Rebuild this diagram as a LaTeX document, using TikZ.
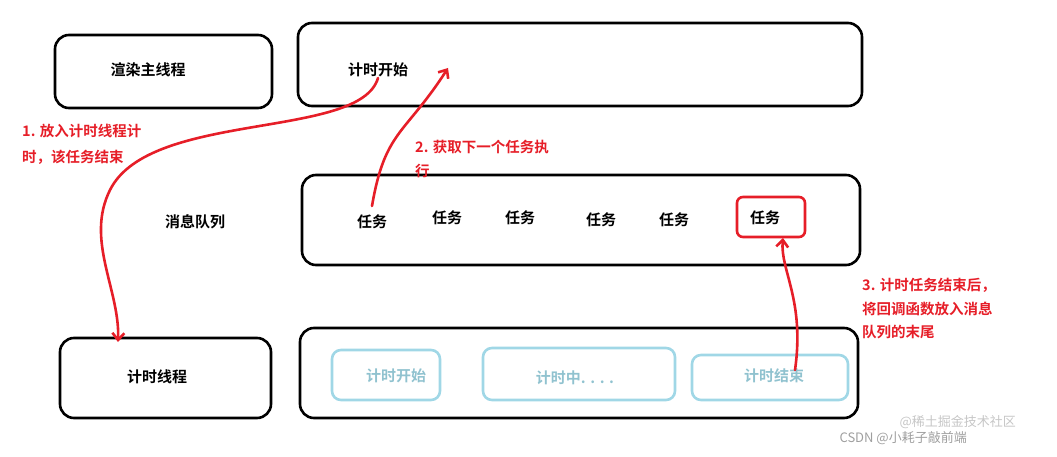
\documentclass[tikz,border=0pt]{standalone}
\usepackage{fontspec}
\setmainfont{Noto Sans CJK SC}[BoldFont={* Bold}]
\usetikzlibrary{arrows.meta}
\definecolor{lb}{RGB}{160,215,230}
\definecolor{rd}{RGB}{230,30,40}
\tikzset{
 blk/.style={draw=black,line width=2.6pt,rounded corners=14pt},
 lbx/.style={draw=lb,line width=2.6pt,rounded corners=9pt},
 txt/.style={font=\fontsize{15}{17}\selectfont\bfseries},
 ltx/.style={font=\fontsize{15}{17}\selectfont\bfseries,text=lb!90!black},
 rtx/.style={font=\fontsize{14.5}{17}\selectfont\bfseries,text=rd,anchor=west,inner sep=0},
 rl/.style={draw=rd,line width=2.6pt,line cap=round,-{Straight Barb[length=7pt,width=12pt]}},
}
\begin{document}
\begin{tikzpicture}[x=1pt,y=-1pt]
\useasboundingbox (0,0) rectangle (1057,457);
\draw[blk] (55,35) rectangle (272,108);
\draw[blk] (298,23) rectangle (862,106);
\draw[blk] (302,175) rectangle (860,265);
\draw[blk] (60,338) rectangle (271,418);
\draw[blk] (300,328) rectangle (858,418);
\node[txt] (render) at (148,70) {渲染主线程};
\node[txt] (start) at (378,70) {计时开始};
\node[txt] (queue) at (195,222) {消息队列};
\node[txt] (t1) at (372,222) {任务};
\node[txt] (t2) at (447,218) {任务};
\node[txt] (t3) at (520,218) {任务};
\node[txt] (t4) at (601,220) {任务};
\node[txt] (t5) at (674,220) {任务};
\node[txt] (t6) at (765,218) {任务};
\draw[draw=rd,line width=2.6pt,rounded corners=6pt] (737,197) rectangle (805,237);
\node[txt] (timer) at (157,377) {计时线程};
\draw[lbx] (332,350) rectangle (440,400);
\draw[lbx] (483,348) rectangle (675,400);
\draw[lbx] (692,355) rectangle (848,400);
\node[ltx] (b1) at (396,376) {计时开始};
\node[ltx] (b2) at (575,378) {计时中. . . .};
\node[ltx] (b3) at (774,376) {计时结束};
\node[rtx] (l1a) at (22,131) {1. 放入计时线程计};
\node[rtx] (l1b) at (22,157) {时，该任务结束};
\node[rtx] (l2a) at (415,147) {2. 获取下一个任务执};
\node[rtx] (l2b) at (415,171) {行};
\node[rtx] (l3a) at (862,285) {3. 计时任务结束后，};
\node[rtx] (l3b) at (862,309) {将回调函数放入消息};
\node[rtx] (l3c) at (862,332) {队列的末尾};
\coordinate (a1s) at (378,78);
\coordinate (a1e) at (118,342);
\draw[rl] (a1s) .. controls (360,140) and (150,110) .. (110,190) .. controls (85,240) and (120,290) .. (a1e);
\coordinate (a2s) at (372,206);
\coordinate (a2e) at (448,68);
\draw[rl] (a2s) .. controls (385,130) and (405,135) .. (a2e);
\coordinate (a3s) at (795,370);
\coordinate (a3e) at (783,238);
\draw[rl] (a3s) .. controls (805,300) and (780,270) .. (a3e);
\node[font=\fontsize{13}{15}\selectfont,text=gray!75,anchor=west] (wm) at (836,438) {CSDN @小耗子敲前端};
\node[font=\fontsize{13}{15}\selectfont,text=gray!45,anchor=west] (wm2) at (896,422) {@稀土掘金技术社区};
\end{tikzpicture}
\end{document}
